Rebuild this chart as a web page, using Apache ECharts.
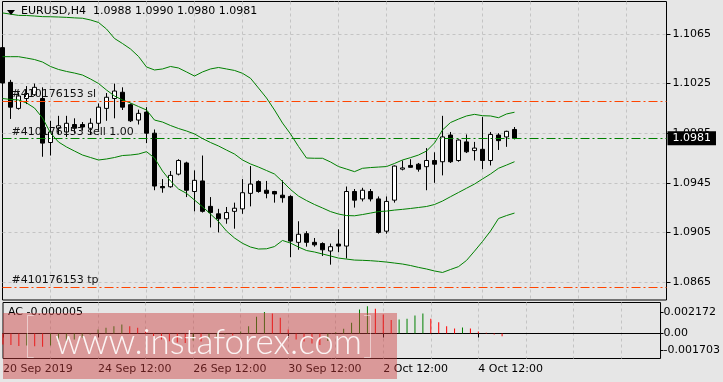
<!DOCTYPE html>
<html><head><meta charset="utf-8">
<script src="https://cdn.jsdelivr.net/npm/echarts@6/dist/echarts.min.js"></script>
<style>html,body{margin:0;padding:0;background:#e6e6e6;}#c{width:723px;height:382px;}</style>
</head><body><div id="c"></div>
<script>
const symbolName = 'EURUSD,H4';
const openP  = [1.1054,1.1026,1.1005,1.1013,1.1016,1.1013,1.09775,1.0989,1.0986,1.0992,1.0992,1.0989,1.0993,1.1005,1.1013,1.1018,1.1008,1.09956,1.1002,1.0985,1.0942,1.09418,1.0952,1.0961,1.0938,1.09465,1.0926,1.0920,1.0916,1.0922,1.0924,1.09365,1.0946,1.0939,1.0938,1.0935,1.0934,1.0897,1.0904,1.0897,1.0896,1.0890,1.08956,1.0894,1.0938,1.0932,1.0938,1.0932,1.0906,1.0931,1.0956,1.0959,1.0960,1.0958,1.0963,1.0962,1.09835,1.0963,1.0978,1.0971,1.0972,1.0963,1.09835,1.0982,1.0988];
const highP  = [1.1056,1.1028,1.1018,1.1023,1.1025,1.1022,1.0995,1.0999,1.0999,1.0997,1.0994,1.0997,1.1009,1.10174,1.1025,1.1022,1.1009,1.1004,1.1006,1.0988,1.0948,1.09545,1.0964,1.0962,1.0955,1.0967,1.09335,1.0924,1.09255,1.0929,1.0948,1.09585,1.0947,1.09465,1.09385,1.0947,1.0935,1.0914,1.0906,1.09005,1.0897,1.0896,1.09075,1.0942,1.0940,1.0941,1.0940,1.0934,1.0934,1.0959,1.0963,1.0964,1.0961,1.0973,1.09696,1.0999,1.0986,1.0980,1.0984,1.0978,1.0998,1.0986,1.0985,1.0987,1.0990];
const lowP   = [1.1024,1.09965,1.1004,1.10085,1.1015,1.0966,1.0967,1.0984,1.0982,1.0985,1.0987,1.09836,1.09876,1.0995,1.0997,1.10037,1.0994,1.0992,1.0977,1.0939,1.0937,1.0941,1.0951,1.09335,1.0922,1.0921,1.0909,1.0905,1.0912,1.0908,1.0920,1.0926,1.0937,1.09325,1.0929,1.0929,1.0885,1.0891,1.08935,1.08935,1.0886,1.0879,1.0889,1.0884,1.0925,1.0930,1.0930,1.0904,1.0904,1.0929,1.0955,1.0958,1.0954,1.0939,1.0945,1.0951,1.0961,1.0962,1.0969,1.0963,1.0956,1.0959,1.09715,1.0974,1.0980];
const closeP = [1.10255,1.1006,1.1015,1.1017,1.1022,1.0977,1.0986,1.0991,1.0993,1.0989,1.0990,1.0993,1.1006,1.1014,1.1019,1.1006,1.0995,1.1001,1.0985,1.09424,1.0941,1.0951,1.0963,1.0939,1.0947,1.0922,1.0921,1.0916,1.0921,1.09245,1.0937,1.0944,1.0938,1.09365,1.0936,1.0933,1.0898,1.09035,1.0897,1.0895,1.0891,1.08935,1.0894,1.0938,1.0931,1.0939,1.0932,1.0905,1.0930,1.09585,1.0957,1.09575,1.0956,1.0963,1.0960,1.0982,1.0962,1.09795,1.0970,1.0973,1.0963,1.0984,1.0979,1.09865,1.0981];

const bbUpper = [1.1082,1.1081,1.1080,1.10799,1.10795,1.1079,1.10789,1.10787,1.10784,1.1078,
 1.10777,1.10763,1.10743,1.1069,1.10614,1.10573,1.10529,1.10469,1.10384,1.1036,
 1.10368,1.10388,1.10376,1.10344,1.10311,1.10344,1.10368,1.1038,1.10368,1.10356,
 1.10333,1.10293,1.10214,1.10134,1.10037,1.09932,1.09844,1.09743,1.0965,1.09648,
 1.09648,1.09618,1.09581,1.09561,1.0954,1.09567,1.09573,1.09577,1.09581,1.09606,
 1.09634,1.09653,1.09674,1.09706,1.09771,1.09876,1.09936,1.09964,1.09989,1.10002,
 1.09991,1.09989,1.09975,1.10005,1.10019];
const bbMiddle = [1.10467,1.10467,1.10467,1.10456,1.10444,1.10424,1.10388,1.10364,1.10348,1.10335,
 1.10319,1.10287,1.10251,1.10198,1.1015,1.10118,1.10094,1.10065,1.10037,1.09956,
 1.0994,1.09912,1.09888,1.09868,1.09844,1.09807,1.09775,1.09747,1.09714,1.09682,
 1.09634,1.09602,1.09577,1.09549,1.09521,1.0946,1.09396,1.09343,1.09307,1.09275,
 1.09247,1.09218,1.09198,1.09186,1.09184,1.09194,1.09206,1.09218,1.09222,1.0923,
 1.09236,1.09243,1.09251,1.09259,1.09275,1.09303,1.09338,1.09372,1.09406,1.0944,
 1.09481,1.09521,1.09567,1.09593,1.0962];
const bbLower = [1.1013,1.10122,1.10118,1.10094,1.10053,1.09973,1.09852,1.09779,1.09739,1.09706,
 1.09674,1.09654,1.09634,1.09642,1.09654,1.0967,1.09674,1.09682,1.09701,1.0965,
 1.09545,1.09464,1.0940,1.09365,1.09311,1.09257,1.09198,1.09138,1.09061,1.09005,
 1.08962,1.08932,1.08916,1.08918,1.08936,1.08985,1.08964,1.08932,1.08904,1.08892,
 1.08876,1.0886,1.08843,1.08835,1.08827,1.08825,1.08822,1.08817,1.08811,1.08803,
 1.08795,1.08783,1.08768,1.08755,1.08739,1.08727,1.08751,1.08774,1.08824,1.08899,
 1.08977,1.09061,1.09162,1.09186,1.09206];

const acValues = [-0.00111,-0.00116,-0.00126,-0.00121,-0.00128,-0.00134,-0.00121,-0.00096,-0.00076,-0.00061,-0.0004,-0.0001,
 0.0004,0.00058,0.00074,0.00091,0.00074,0.00058,0.00023,-0.00027,-0.00061,-0.00078,-0.00091,-0.00096,
 -0.00071,-0.00081,-0.00061,-0.0003,-0.0001,-0.0002,0.0002,0.00074,0.00169,0.00217,0.00202,0.00159,
 0.0004,-0.00061,-0.00081,-0.00101,-0.00116,-0.00076,0.00013,0.00047,0.00108,0.00242,0.00276,0.00249,
 0.00192,0.00136,0.00141,0.00148,0.00182,0.00202,0.00148,0.00114,0.00074,0.00051,0.00061,0.00051,
 0.0002,0.00007,-0.0001,-0.00027,-0.000005];

const priceTicks = [1.0865,1.0905,1.0945,1.0985,1.1025,1.1065];
const acTicks = [-0.001703,0,0.002172];
const timeLabelIndex = [0,12,24,36,48,60];
const timeLabelText = ['20 Sep 2019','24 Sep 12:00','26 Sep 12:00','30 Sep 12:00','2 Oct 12:00','4 Oct 12:00'];
const orderName = '#410176153';
const slLevel = 1.1011, entryLevel = 1.0981, tpLevel = 1.0861, lots = '1.00';

const TOTAL_SLOTS = 84;
const cats = Array.from({length: TOTAL_SLOTS}, (_, i) => String(i));
const labelMap = {};
timeLabelIndex.forEach((k, j) => labelMap[k] = timeLabelText[j]);
const candles = openP.map((o, i) => [o, closeP[i], lowP[i], highP[i]]);
const last = openP.length - 1;
const fmt4 = v => v.toFixed(4);
const titleText = symbolName + '  ' + [openP[last], highP[last], lowP[last], closeP[last]].map(fmt4).join(' ');
const acBars = acValues.map((v, i) => ({value: v, itemStyle: {color: (i > 0 && v > acValues[i-1]) ? '#008000' : '#ff0000'}}));

const FONT = 'DejaVu Sans';
const gridColor = '#c4c4c4';
const ORANGE = '#ff4500';
const isLabel = (idx) => labelMap[idx] !== undefined;
const isGrid = (idx) => idx % 6 === 0 && idx > 0;

const chart = echarts.init(document.getElementById('c'), null, {renderer: 'canvas'});
const bandLine = (data) => ({type: 'line', xAxisIndex: 0, yAxisIndex: 0, data, symbol: 'none', showSymbol: false,
  lineStyle: {color: '#008000', width: 1}, z: 4, silent: true, animation: false});
const orderLabel = {show: true, position: 'insideStartTop', distance: [9, 1], color: '#111', fontFamily: FONT, fontSize: 11};
const dash = [9, 3, 2, 3];
const helperLine = {symbol: 'none', showSymbol: false, lineStyle: {opacity: 0, width: 0}, silent: true};

chart.setOption({
  animation: false,
  backgroundColor: '#e6e6e6',
  textStyle: {fontFamily: FONT},
  title: [
    {text: titleText, left: 21, top: 6, padding: 0, textStyle: {fontSize: 11, fontWeight: 'normal', fontFamily: FONT, color: '#000'}},
    {text: 'AC ' + acValues[last].toFixed(6), left: 8, top: 307, padding: 0, textStyle: {fontSize: 11, fontWeight: 'normal', fontFamily: FONT, color: '#000'}}
  ],
  grid: [
    {left: 2.5, top: 1.5, width: 664, height: 298.5, show: true, borderColor: '#000', borderWidth: 1, backgroundColor: 'transparent'},
    {left: 2.5, top: 302.5, width: 664, height: 56, show: true, borderColor: '#000', borderWidth: 1, backgroundColor: 'transparent'}
  ],
  xAxis: [
    {type: 'category', gridIndex: 0, data: cats, boundaryGap: false,
     axisLine: {show: false}, axisTick: {show: false}, axisLabel: {show: false},
     splitLine: {show: true, interval: isGrid, lineStyle: {color: gridColor, type: [3, 3], width: 1}}},
    {type: 'category', gridIndex: 1, data: cats, boundaryGap: false,
     axisLine: {show: true, lineStyle: {color: '#000'}},
     axisTick: {show: true, interval: isLabel, length: 4, lineStyle: {color: '#000'}},
     axisLabel: {show: true, interval: isLabel, formatter: (v, idx) => labelMap[idx] || '', align: 'left', margin: 5,
       color: '#000', fontFamily: FONT, fontSize: 11},
     splitLine: {show: true, interval: isGrid, lineStyle: {color: gridColor, type: [3, 3], width: 1}}}
  ],
  yAxis: [
    {type: 'value', gridIndex: 0, position: 'right', min: 1.08505, max: 1.10912, scale: true,
     axisLine: {show: false},
     axisTick: {show: true, customValues: priceTicks, length: 4, lineStyle: {color: '#000'}},
     axisLabel: {show: true, customValues: priceTicks, formatter: fmt4, margin: 6, color: '#000', fontFamily: FONT, fontSize: 11},
     splitLine: {show: false}},
    {type: 'value', gridIndex: 1, position: 'right', min: -0.002525, max: 0.003131,
     axisLine: {show: false},
     axisTick: {show: true, customValues: acTicks, length: 3, lineStyle: {color: '#000'}},
     axisLabel: {show: true, customValues: acTicks, formatter: v => v === 0 ? '0.00' : v.toFixed(6), margin: 3, color: '#000', fontFamily: FONT, fontSize: 11},
     splitLine: {show: false}}
  ],
  series: [
    Object.assign({type: 'line', name: 'gridHelper', xAxisIndex: 0, yAxisIndex: 0, data: closeP, z: 1,
     markLine: {silent: true, symbol: 'none', animation: false, z: 1, precision: 6, label: {show: false},
       lineStyle: {color: gridColor, type: [3, 3], width: 1},
       data: priceTicks.map(v => ({yAxis: v}))}}, helperLine),
    {type: 'candlestick', xAxisIndex: 0, yAxisIndex: 0, data: candles, barWidth: 5, z: 3, silent: true,
     itemStyle: {color: '#ffffff', color0: '#000000', borderColor: '#000000', borderColor0: '#000000', borderWidth: 1}},
    bandLine(bbUpper), bandLine(bbMiddle), bandLine(bbLower),
    Object.assign({type: 'line', name: 'stops', xAxisIndex: 0, yAxisIndex: 0, data: closeP, z: 5, color: ORANGE,
     markLine: {silent: true, symbol: 'none', animation: false, z: 6, precision: 6,
       lineStyle: {color: ORANGE, type: dash, width: 1},
       data: [
         {yAxis: slLevel, label: Object.assign({}, orderLabel, {formatter: orderName + ' sl'})},
         {yAxis: tpLevel, label: Object.assign({}, orderLabel, {formatter: orderName + ' tp'})}
       ]}}, helperLine),
    Object.assign({type: 'line', name: 'entry', xAxisIndex: 0, yAxisIndex: 0, data: closeP, z: 5, color: '#008000',
     markLine: {silent: true, symbol: 'none', animation: false, z: 6, precision: 6,
       lineStyle: {color: '#008000', type: dash, width: 1},
       data: [
         {yAxis: entryLevel, label: Object.assign({}, orderLabel, {formatter: orderName + ' sell ' + lots})}
       ]}}, helperLine),
    Object.assign({type: 'line', name: 'priceTag', xAxisIndex: 0, yAxisIndex: 0, data: closeP, z: 7, clip: false,
     markLine: {silent: true, symbol: 'none', animation: false, z: 7, precision: 6,
       lineStyle: {color: 'rgba(0,0,0,0)', width: 0, opacity: 1},
       data: [
         {yAxis: closeP[last],
          label: {show: true, position: 'end', distance: 1, formatter: fmt4(closeP[last]), color: '#fff', backgroundColor: '#000',
            padding: [2, 5, 1, 5], fontFamily: FONT, fontSize: 11}}
       ]}}, helperLine),
    {type: 'bar', xAxisIndex: 1, yAxisIndex: 1, data: acBars, barWidth: 1, silent: true}
  ],
  graphic: [
    {type: 'polygon', shape: {points: [[7, 10], [15, 10], [11, 15]]}, style: {fill: '#000'}, z: 100},
    {type: 'rect', shape: {x: 3, y: 313, width: 394, height: 66}, style: {fill: 'rgba(205,60,60,0.45)'}, z: 100, silent: true},
    {type: 'text', x: 22, y: 313, style: {text: '[', fill: 'rgba(255,255,255,0.85)', font: '200 48px Lato'}, z: 101, silent: true},
    {type: 'text', x: 55, y: 325, style: {text: 'www.instaforex.com', fill: 'rgba(255,255,255,0.9)', font: '300 35px Lato'}, z: 101, silent: true},
    {type: 'text', x: 362, y: 313, style: {text: ']', fill: 'rgba(255,255,255,0.85)', font: '200 48px Lato'}, z: 101, silent: true}
  ]
});
</script></body></html>
